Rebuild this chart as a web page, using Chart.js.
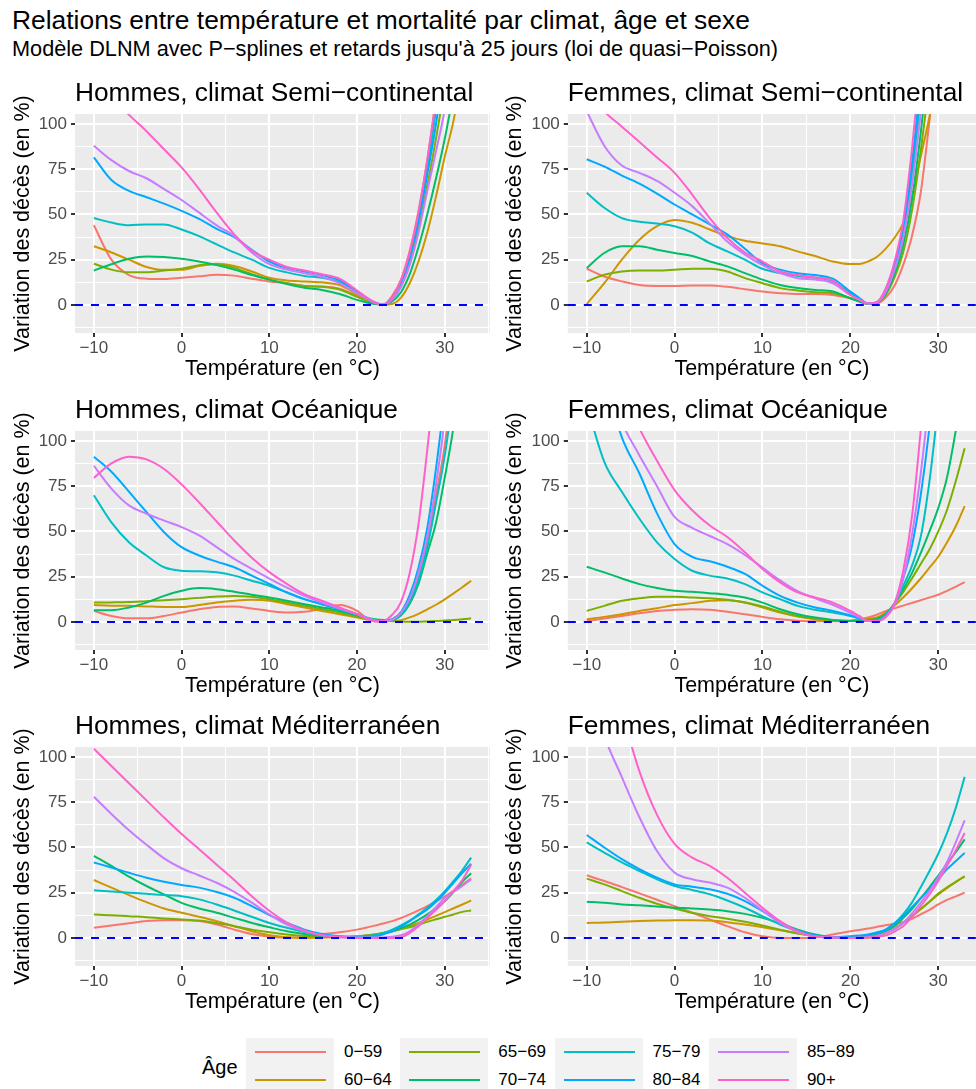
<!DOCTYPE html>
<html>
<head>
<meta charset="utf-8">
<script src="https://cdn.jsdelivr.net/npm/chart.js@4.4.1/dist/chart.umd.min.js"></script>
<style>
  body { margin: 0; background: #fff; width: 976px; height: 1089px; overflow: hidden; position: relative;
         font-family: "Liberation Sans", Arial, sans-serif; color: #000; }
  .txt { position: absolute; white-space: nowrap; }
  canvas { position: absolute; }
  .key { position: absolute; width: 88px; height: 28px; background: #F2F2F2; }
  .key span { position: absolute; left: 9px; top: 13px; width: 71px; height: 2px; }
  .lab { position: absolute; font-size: 17px; line-height: 28px; white-space: nowrap; }
</style>
</head>
<body>
<div class="txt" style="left:12px;top:5px;font-size:26.4px;line-height:30px;">Relations entre température et mortalité par climat, âge et sexe</div>
<div class="txt" style="left:12px;top:35.5px;font-size:21.7px;line-height:26px;">Modèle DLNM avec P−splines et retards jusqu'à 25 jours (loi de quasi−Poisson)</div>
<div id="legend"></div>
<script>
// temperature grid (°C) shared by every curve
var temperatures = [-10, -8, -6, -4, -2, 0, 2, 4, 6, 8, 10, 12, 14, 16, 18, 20, 21, 22, 23, 24, 25, 26, 27, 28, 29, 30, 31, 32, 33];

var ageGroups = ['0−59', '60−64', '65−69', '70−74', '75−79', '80−84', '85−89', '90+'];
var ageColours = ['#F8766D', '#CD9600', '#7CAE00', '#00BE67', '#00BFC4', '#00A9FF', '#C77CFF', '#FF61CC'];

var panelTitles = ['Hommes, climat Semi−continental', 'Femmes, climat Semi−continental',
                   'Hommes, climat Océanique', 'Femmes, climat Océanique',
                   'Hommes, climat Méditerranéen', 'Femmes, climat Méditerranéen'];

// variation des décès (%) par groupe d'âge, one row per age group
var hommesSemiContinental = [
  [44, 25, 16.5, 14.5, 14.3, 15, 15.8, 16.7, 16.2, 14.5, 13, 12, 10.5, 10.2, 9, 5, 2.8, 0.9, 0.2, 5, 14, 30, 52, 80, 115, 155, 200, 250, 300],
  [32.4, 29, 25, 21, 19.4, 19.4, 21.5, 22.8, 21.5, 18.5, 15, 13.5, 13, 12.5, 11, 6, 3.4, 1.1, 0.2, 0.5, 4, 12, 24, 40, 60, 82, 102, 130, 165],
  [22.8, 19.5, 18, 18, 19, 20, 22, 22.5, 20.5, 17, 14, 12, 10.5, 10, 8.5, 4.5, 2.5, 0.8, 0.2, 3, 10, 23, 42, 66, 92, 122, 160, 200, 245],
  [19, 22.5, 25.5, 26.8, 26.5, 25.5, 24, 22, 19.5, 16.5, 14, 11.5, 9.5, 8.3, 6, 2.8, 1.5, 0.5, 0.2, 2, 7, 17, 32, 50, 70, 92, 118, 150, 185],
  [48, 45.5, 44, 44.5, 44.5, 41.7, 38, 33.5, 29, 25, 20.5, 18, 16, 15, 12.5, 7, 4, 1.3, 0.2, 4, 12.5, 27, 48, 75, 108, 145, 190, 240, 290],
  [81.5, 69, 63, 59.5, 56, 52, 47.5, 42, 37.5, 30.5, 24, 20.5, 18.5, 16.5, 13.5, 7.5, 4.2, 1.4, 0.2, 3.5, 12, 26, 46, 72, 100, 135, 175, 220, 270],
  [88, 80, 74, 70, 64, 58, 51, 44, 38, 29, 22.5, 19.5, 17.5, 15.5, 12, 6.5, 3.7, 1.2, 0.2, 3, 10, 22, 40, 63, 85, 108, 140, 175, 215],
  [124, 115, 105, 96, 86, 76, 64, 51, 39, 30, 25, 21, 19, 17, 14.5, 8, 4.5, 1.5, 0.2, 4, 13.5, 29, 51, 80, 113, 150, 195, 245, 300]
];
var femmesSemiContinental = [
  [20, 15.7, 13, 11, 10.5, 10.5, 10.7, 10.7, 10, 8.7, 7.4, 6.5, 6, 6, 5.5, 3.7, 2, 0.5, 0.8, 4, 10.5, 22, 38, 62, 102, 145, 190, 240, 290],
  [0.5, 12, 25, 36, 43.5, 47, 45.4, 41.7, 38, 35.5, 34, 32.4, 29.6, 27, 24, 22.6, 22.6, 24, 26.5, 31, 37, 45, 60, 82, 104, 130, 160, 195, 235],
  [13, 16.7, 18.5, 19, 19, 19.4, 20, 20, 18.5, 14.8, 12, 9.3, 8, 7, 6.5, 3.7, 2, 0.5, 0.9, 5.5, 15, 29, 52, 85, 125, 170, 220, 270, 320],
  [20.4, 28.7, 32.4, 32.4, 30.5, 28.7, 27, 24, 21.3, 17.6, 14, 11, 9.3, 8.3, 7.4, 3.7, 2, 0.5, 1, 6, 17, 33, 58, 95, 138, 185, 235, 290, 345],
  [62, 53.7, 48, 46, 45, 43.5, 40, 34, 29.6, 25, 20, 17.6, 16, 15, 13, 6.5, 3.5, 0.8, 1.2, 7.5, 20.5, 40, 72, 115, 165, 220, 280, 340, 400],
  [80.5, 76.5, 71.5, 67, 61.5, 55.5, 50, 44.5, 39, 31, 23, 19.5, 17.5, 16.5, 14.5, 7.4, 4, 0.8, 1.5, 8, 22, 43, 78, 125, 180, 240, 300, 360, 420],
  [107, 88, 77, 73, 68.5, 62, 54.6, 45, 35, 27.8, 22, 17.6, 14.8, 14, 12, 5.5, 3, 0.8, 1.2, 7, 19, 37, 66, 106, 150, 200, 255, 310, 370],
  [120, 107, 98.5, 90, 81.5, 73, 61, 48, 37, 29, 24, 18.5, 16.5, 15.2, 13.5, 5.5, 3, 0.8, 1.5, 9, 23.5, 46, 86, 135, 190, 250, 310, 370, 430]
];
var hommesOceanique = [
  [6.1, 3.3, 2, 2, 3.3, 5.2, 7, 8.3, 8.5, 7.4, 6.1, 5.2, 5.6, 7.4, 9.3, 6.1, 2.4, 0.4, 0.3, 1, 4.5, 12, 25, 44, 70, 98, 140, 190, 240],
  [9.3, 9, 8.9, 8.6, 8.3, 8.3, 9.3, 10.7, 11.7, 12.2, 11.7, 9.8, 8, 6.1, 4.3, 2.4, 1.5, 0.7, 0.4, 0.5, 1, 2.5, 4.5, 7, 9.5, 12.5, 15.8, 19.2, 22.8],
  [10.7, 10.8, 11, 11.5, 12, 12.6, 13.3, 14, 14.4, 13.9, 12.6, 10.7, 8.9, 7, 5.2, 3, 2, 1.1, 0.6, 0.4, 0.2, 0.1, 0.1, 0.3, 0.5, 0.8, 1.1, 1.5, 2],
  [6.5, 6.5, 8, 10.7, 14.4, 17.2, 18.7, 18.1, 16.7, 15, 13.5, 11.7, 9.8, 8, 6.1, 3.7, 2.5, 1.5, 1.1, 1.2, 3.5, 10, 21, 38, 55, 80, 108, 145, 185],
  [70, 55, 44, 36.7, 30.2, 28.3, 28, 27.4, 25.6, 22.8, 20, 16.3, 12.6, 9.8, 7, 4.3, 2.5, 1, 0.4, 1, 4, 11, 23, 41, 66, 92, 128, 170, 215],
  [91.3, 83, 72, 60.7, 49.6, 41.3, 36.7, 33.3, 30.2, 25.6, 21, 16.3, 12.6, 9.8, 7, 4.3, 2.5, 0.8, 0.3, 1.5, 5.5, 15, 30, 52, 85, 125, 170, 220, 275],
  [86.3, 73.7, 64.4, 59.8, 56, 52.4, 47.8, 41.3, 34.8, 29.3, 24, 19, 14.4, 10.7, 7.4, 4.3, 2.5, 0.8, 0.3, 1.2, 5, 13, 27, 47, 76, 112, 155, 205, 260],
  [79.6, 87.6, 91.3, 89.8, 84.5, 76, 66, 55.5, 45, 35.5, 27.5, 21, 15.4, 11.7, 8, 4.3, 2, 0.3, 0.5, 4, 11, 27, 54, 95, 140, 190, 245, 300, 360]
];
var femmesOceanique = [
  [0.4, 1.9, 3.3, 4.8, 6.1, 6.7, 7, 6.7, 5.6, 4.3, 2.8, 1.5, 0.7, 0.4, 0.4, 0.7, 1.5, 2.5, 4, 6, 7.5, 9, 10.5, 12, 13.5, 15, 17.2, 19.5, 22],
  [1.5, 2.8, 4.3, 6.1, 7.6, 9.3, 10.4, 11.7, 12, 10.7, 8, 5.2, 3, 1.5, 0.7, 0.7, 1.1, 1.8, 2.5, 5, 9, 13.5, 18.5, 24, 30, 36, 44, 53, 64],
  [6.1, 8.9, 11.7, 13.1, 13.9, 13.9, 13.5, 13.1, 12.2, 10.7, 8.5, 5.7, 3.3, 1.9, 0.9, 0.5, 0.6, 1, 2, 4.5, 10, 16.5, 24, 32, 40, 50, 62, 78, 96],
  [30.5, 27.4, 24, 20.9, 18.7, 17.2, 16.7, 15.9, 15, 13.5, 10.7, 7, 4.3, 2.4, 1.1, 0.5, 0.5, 0.8, 1.5, 4, 10, 18, 27, 38, 50, 63, 80, 106, 135],
  [120, 88.5, 71.9, 57, 44, 34.8, 28.3, 25.6, 24, 20.9, 16.3, 12.6, 8.9, 6.7, 5.2, 3.3, 2, 0.8, 1, 4, 10, 20, 31, 47, 78, 120, 165, 215, 270],
  [170, 135, 102, 82, 60, 43, 36, 33.5, 30.5, 26.5, 20, 14.4, 10.7, 8, 6.1, 3.7, 2, 0.5, 0.5, 3, 9.5, 24, 42, 70, 108, 160, 215, 275, 340],
  [175, 135, 110, 92, 75, 58, 52, 47.5, 43, 37, 30, 23, 17, 13, 9.5, 5, 2.5, 0.5, 0.4, 2.5, 9, 24, 48, 82, 125, 170, 225, 285, 350],
  [190, 160, 130, 107, 89, 72.8, 61.7, 53.3, 46.9, 38.5, 29.3, 21.9, 16.3, 13.5, 10.7, 6.1, 3.3, 0.5, 0.5, 3, 10, 28, 58, 106, 165, 230, 300, 370, 440]
];
var hommesMediterraneen = [
  [5.6, 6.9, 8.1, 9.3, 9.8, 9.8, 9.3, 7.4, 4.6, 2.2, 0.7, 0.2, 0.7, 2.2, 3.1, 4.6, 5.6, 6.8, 8, 9.3, 11, 13, 15.2, 17.6, 20.3, 23, 26, 29.5, 33],
  [32, 27.8, 23.7, 19.8, 16.3, 13.9, 11.7, 9.3, 6.5, 3.7, 1.5, 0.4, 0, 0.2, 0.6, 0.9, 1.3, 1.9, 2.7, 3.7, 5, 6.5, 8.3, 10.2, 12.2, 14.3, 16.4, 18.5, 20.7],
  [13, 12.6, 12, 11.5, 10.7, 10.2, 9.6, 8.3, 6.5, 4.6, 3.1, 1.9, 1.1, 0.6, 0.6, 0.9, 1.3, 1.9, 2.7, 3.7, 4.8, 5.9, 7.3, 8.9, 10.3, 11.7, 13, 14.4, 15.2],
  [45.4, 39.8, 33.9, 28.7, 24, 19.4, 16.3, 13.9, 11.1, 8.3, 5.9, 3.7, 2.2, 0.9, 0.4, 0.4, 0.8, 1.5, 2.5, 3.7, 5.5, 7.4, 10, 13, 16.5, 20.4, 25.5, 31.1, 35.7],
  [26.3, 25.6, 25, 24.4, 23.7, 23.1, 21.3, 18.5, 15.2, 11.7, 8.3, 5.6, 3.3, 1.5, 0.6, 0.4, 0.8, 1.5, 2.8, 4.6, 7, 9.6, 13, 16.7, 21, 25.9, 31.5, 37.4, 44.4],
  [41.7, 38.9, 36, 33.3, 31.1, 29.3, 27.8, 25.4, 22.2, 17.6, 12.6, 8.3, 4.6, 2.2, 0.9, 0.4, 0.5, 0.7, 2, 3.7, 6.3, 9.3, 12.5, 15.7, 20, 25, 30.5, 36, 41],
  [78, 68.5, 59.5, 51.5, 44, 38.5, 34.5, 30.5, 25.5, 19.5, 13, 7.4, 3.7, 1.5, 0.6, 0.2, 0.2, 0.2, 0.3, 0.6, 1.5, 3.7, 7.5, 12, 17, 22.2, 25.5, 28.7, 32.4],
  [104.6, 95, 85.5, 76, 66.5, 57.4, 49, 40.5, 32, 23, 15, 8.5, 4, 1.5, 0.4, 0, 0, 0, 0, 0, 0.4, 2.8, 6.5, 11, 15.5, 20.4, 26, 32, 40.4]
];
var femmesMediterraneen = [
  [34.6, 31.5, 28.1, 24.6, 21.1, 17.6, 13.9, 10.2, 6.5, 3.1, 0.9, 0, 0, 0.3, 1.9, 3.7, 4.4, 5.2, 6.1, 7, 7.8, 8.8, 10.5, 13, 15.5, 18.5, 21, 23, 25],
  [8.3, 8.5, 8.9, 9.3, 9.6, 9.8, 9.8, 9.6, 8.7, 7.4, 5.9, 4.3, 2.6, 1.1, 0.2, 0, 0.1, 0.2, 0.8, 2.5, 5, 8.3, 12, 16, 20, 24, 27.5, 31, 34],
  [32.8, 29.6, 25.9, 22.2, 18.9, 16.3, 13.9, 12, 10.6, 8.9, 6.9, 4.6, 2.4, 0.9, 0.2, 0, 0.1, 0.2, 0.9, 2.8, 5, 8.3, 12, 16, 20, 24.5, 28, 31, 34],
  [20, 19.4, 18.5, 18, 17.4, 16.7, 16.3, 15.7, 14.8, 13.3, 11.1, 8, 4.6, 1.9, 0.4, 0.3, 0.5, 0.9, 2, 3.7, 6.5, 11, 16, 22, 28, 34.5, 41, 47.5, 54.5],
  [52.8, 47.2, 41.7, 37, 32.4, 28.7, 26.5, 24.1, 20.7, 16.7, 12, 7.4, 3.7, 1.1, 0.4, 0.7, 1, 1.5, 2.8, 4.5, 8, 13, 19.5, 28, 37, 46.5, 58, 72, 89],
  [56.9, 50, 43.5, 38, 33.3, 29.6, 28.3, 26.9, 24.4, 20.4, 14.8, 8.9, 4.1, 1.5, 0.4, 0.9, 1.3, 1.9, 3, 4.6, 8, 12, 17, 22, 27, 32.5, 38, 42.5, 47],
  [150, 112, 88.9, 66.7, 48, 36.1, 32.4, 30.6, 27.8, 22.2, 15.2, 8.3, 3.3, 0.9, 0.2, 0, 0.2, 0.4, 1.2, 2.8, 5, 8.3, 13.5, 19.5, 26, 33.5, 42, 53, 65],
  [200, 160, 125, 92, 68, 52, 44.4, 39.8, 33.3, 25, 16.7, 9.3, 3.7, 0.7, 0.2, 0, 0.1, 0.2, 0.6, 1.3, 3.5, 6.5, 11.5, 17.6, 24, 31.5, 40, 48.5, 58]
];

var panelData = [hommesSemiContinental, femmesSemiContinental, hommesOceanique,
                 femmesOceanique, hommesMediterraneen, femmesMediterraneen];

var FONT = '"Liberation Sans", Arial, sans-serif';
var yMin = -15.5, yMax = 105.5;     // ylim c(-10, 100) plus 5 % expansion
var xMin = -12.15;
var xMaxByCol = [35.15, 34.29];     // right column is cut by the picture edge
var colLeft = [0, 490], colWidth = [490, 486], yAxisWidth = [75, 77.8], yTitlePad = [10.4, 12.1];
var rowPlotTop = [114, 431, 747];
var TITLE_H = 38, PLOT_H = 219, XAXIS_H = 49;

Chart.defaults.font.family = FONT;

function fmt(v) { return v < 0 ? '\u2212' + Math.abs(v) : String(v); }

// grey panel like ggplot's theme_gray
var panelBackground = {
  id: 'panelBackground',
  beforeDraw: function (chart) {
    var a = chart.chartArea, ctx = chart.ctx;
    ctx.save();
    ctx.fillStyle = '#EBEBEB';
    ctx.fillRect(a.left, a.top, a.right - a.left, a.bottom - a.top);
    ctx.restore();
  }
};

function makePanel(p) {
  var row = Math.floor(p / 2), col = p % 2;
  var canvas = document.createElement('canvas');
  var h = TITLE_H + PLOT_H + XAXIS_H;
  canvas.width = colWidth[col];
  canvas.height = h;
  canvas.style.left = colLeft[col] + 'px';
  canvas.style.top = (rowPlotTop[row] - TITLE_H) + 'px';
  canvas.style.width = colWidth[col] + 'px';
  canvas.style.height = h + 'px';
  document.body.appendChild(canvas);

  var datasets = panelData[p].map(function (vals, i) {
    return {
      label: ageGroups[i],
      data: temperatures.map(function (t, k) { return {x: t, y: vals[k]}; }),
      borderColor: ageColours[i],
      borderWidth: 2,
      pointRadius: 0,
      cubicInterpolationMode: 'monotone',
      fill: false,
      order: ageGroups.length - i
    };
  });
  // horizontal reference at 0 %
  datasets.push({
    label: 'ref',
    data: [{x: xMin, y: 0}, {x: 35.15, y: 0}],
    borderColor: '#0000FF',
    borderWidth: 2,
    borderDash: [8, 8],
    pointRadius: 0,
    order: -1
  });

  var isMajorX = function (ctx) { return ctx.tick && ctx.tick.value % 10 === 0; };
  var isMajorY = function (ctx) { return ctx.tick && ctx.tick.value % 25 === 0; };

  new Chart(canvas, {
    type: 'line',
    data: {datasets: datasets},
    plugins: [panelBackground],
    options: {
      responsive: false,
      animation: false,
      events: [],
      layout: {padding: 0},
      plugins: {
        legend: {display: false},
        tooltip: {enabled: false},
        title: {
          display: true, text: panelTitles[p], align: 'start', fullSize: false,
          color: '#000', font: {size: 26.3, weight: 'normal', lineHeight: 1.2},
          padding: {top: 1.5, bottom: TITLE_H - 1.5 - 26.3 * 1.2}
        }
      },
      scales: {
        x: {
          type: 'linear', min: xMin, max: xMaxByCol[col],
          afterFit: function (s) { s.height = XAXIS_H; },
          border: {display: false},
          grid: {
            color: '#FFFFFF',
            lineWidth: function (ctx) { return isMajorX(ctx) ? 2 : 1; },
            tickLength: 4,
            tickWidth: 2,
            tickColor: function (ctx) { return isMajorX(ctx) ? '#333333' : 'rgba(0,0,0,0)'; }
          },
          ticks: {
            stepSize: 5, includeBounds: false, autoSkip: false, maxRotation: 0, padding: 1,
            color: '#4D4D4D', font: {size: 17},
            callback: function (v) { return v % 10 === 0 ? fmt(v) : ''; }
          },
          title: {display: true, text: 'Température (en °C)', color: '#000', font: {size: 21.5}, padding: 0}
        },
        y: {
          type: 'linear', min: yMin, max: yMax,
          afterFit: function (s) { s.width = yAxisWidth[col]; },
          border: {display: false},
          grid: {
            color: '#FFFFFF',
            lineWidth: function (ctx) { return isMajorY(ctx) ? 2 : 1; },
            tickLength: 4,
            tickWidth: 2,
            tickColor: function (ctx) { return isMajorY(ctx) ? '#333333' : 'rgba(0,0,0,0)'; }
          },
          ticks: {
            stepSize: 12.5, includeBounds: false, autoSkip: false, padding: 4,
            color: '#4D4D4D', font: {size: 17},
            callback: function (v) { return v % 25 === 0 ? fmt(v) : ''; }
          },
          title: {display: true, text: 'Variation des décès (en %)', color: '#000', font: {size: 21.5},
                  padding: {top: yTitlePad[col], bottom: 0}}
        }
      }
    }
  });
}

for (var p = 0; p < panelData.length; p++) makePanel(p);

// legend: two rows, filled column by column
var legend = document.getElementById('legend');
var ageTitle = document.createElement('div');
ageTitle.className = 'txt';
ageTitle.style.cssText = 'left:202px;top:1052.7px;font-size:20px;line-height:28px;';
ageTitle.textContent = 'Âge';
legend.appendChild(ageTitle);
ageGroups.forEach(function (age, i) {
  var c = Math.floor(i / 2), r = i % 2;
  var key = document.createElement('div');
  key.className = 'key';
  key.style.left = (246 + c * 154.3) + 'px';
  key.style.top = (1038.3 + r * 28) + 'px';
  var line = document.createElement('span');
  line.style.background = ageColours[i];
  key.appendChild(line);
  legend.appendChild(key);
  var lab = document.createElement('div');
  lab.className = 'lab';
  lab.style.left = (344 + c * 154.3) + 'px';
  lab.style.top = (1038.3 + r * 28) + 'px';
  lab.textContent = age;
  legend.appendChild(lab);
});
</script>
</body>
</html>
